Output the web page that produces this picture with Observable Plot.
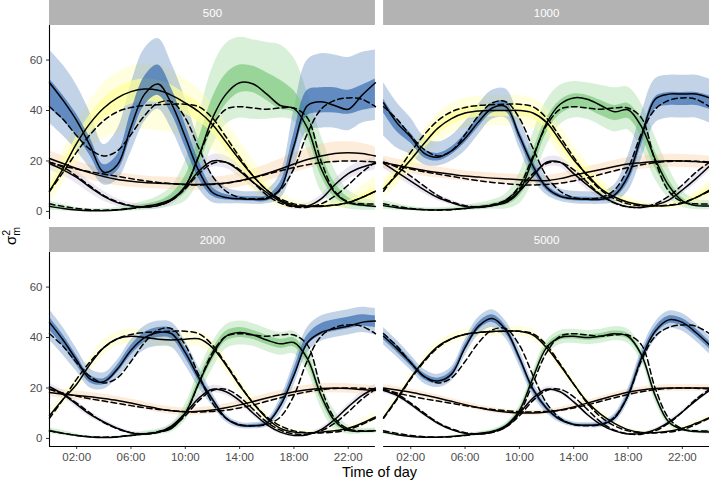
<!DOCTYPE html>
<html>
<head>
<meta charset="utf-8">
<script src="https://cdn.jsdelivr.net/npm/d3@7"></script>
<script src="https://cdn.jsdelivr.net/npm/@observablehq/plot@0.6"></script>
<style>
  body { margin: 0; background: #fff; }
  g[aria-label="x-axis label"] text { font-size: 14.5px; fill: #000; }
  g[aria-label="x-axis tick label"] text, g[aria-label="y-axis tick label"] text { fill: #4d4d4d; }
</style>
</head>
<body>
<div id="chart"></div>
<script>
// ---------- axes / panels ----------
const hours = [0,1,2,3,4,5,6,7,8,9,10,11,12,13,14,15,16,17,18,19,20,21,22,23,24];
const panels = [500, 1000, 2000, 5000];
const xTicks = [2, 6, 10, 14, 18, 22];
const xTickLabels = ["02:00", "06:00", "10:00", "14:00", "18:00", "22:00"];
const yTicks = [0, 20, 40, 60];

// ---------- true curves (dashed) ----------
const trueBlue   = [41.5,36.5,30,24.5,22,24,30.5,38,43,43.5,37,25,14,8,5.5,5,5.5,8.5,17,31,40.5,44,45,44.5,41.5];
const trueYellow = [8,15.5,23.5,30.5,36,39.5,41.2,42,42.3,42.5,42.5,41.5,37,29.5,21.5,14,8.5,5,3,2.3,2.2,2.5,3.5,5.5,8];
const trueGreen  = [3,2,1.2,0.7,0.5,0.7,1.2,1.8,2.7,4.5,10,22,34,40.5,41.5,41,40.5,41,41,37,20,8,3.8,3,3];
const trueOrange = [19.5,18,16.8,15.7,14.8,13.9,13,12.2,11.5,11,10.6,10.5,10.7,11.2,12.1,13.3,14.7,16.1,17.4,18.5,19.3,19.8,20,19.9,19.6];
const truePurple = [19.5,17.5,14,10,6.3,3.8,2.3,1.8,2.3,4.5,9,15,19,19.5,16.5,11.5,6.5,3.3,1.8,1.7,3,6,10.5,15.5,19.5];

// ---------- n = 500 ----------
const blue500   = [51,44,36,26,15.5,18.5,33.5,46.5,50.5,42.5,29.5,16,7.5,5.5,5,4.8,5,9,26,42,43.5,42,40.5,46,51];
const b500lo95  = [16,14,12,9,5,6,10,11,10,10,9,7,4,2.5,2,2,2,4,9,10,10.5,9,8.5,11,15];
const b500hi95  = [13,14,14,13,11,14,17,18,18,16,15,12,7,4,3,3,3.5,6,14,18,19,20,20.5,17,13];
const b500lo50  = [10,8,6,4,2,2.5,4,4.5,4.5,4,4,3,1.5,1,0.8,0.8,1,1.5,3,4,4.5,3,2,6,10];
const b500hi50  = [1.5,2,2.5,3,3,4,6,7,7.5,6,5,4,2,1.2,1,1,1.2,2.5,5,6,5.5,7,7.5,4,1.5];
const yellow500 = [8,17,27,35,41,45,47.5,48.5,48,46,43,39.5,34.5,27.5,20.5,14,8.5,4.5,2.5,2,2,2.5,3.5,5.5,8];
const y500lo95  = [5,6,8,10,12,14,15,16,16,15,14,12,10,8,7,6,4.5,3,1.5,1,1,1.2,2,3,5];
const y500hi95  = [6,7,8,9,10,10,10,10,10,10,9.5,9,8,8,7.5,6.5,5,3.5,2,1.5,1.5,2,3,4.5,6];
const y500lo50  = [2,2.5,3,4,4.5,5,5,5,5,5,4.5,4,3.5,3,2.5,2,1.5,1,0.6,0.5,0.5,0.5,0.8,1.2,2];
const y500hi50  = [2,2.5,3,3.5,4,4,4,4,4,4,3.5,3.5,3,3,2.5,2,1.5,1,0.6,0.5,0.5,0.5,0.8,1.2,2];
const green500  = [2,1.2,0.6,0.3,0.3,0.6,1.2,2,3,5,10,22,37,46.5,51,50.5,46.5,42,40.8,33,17,7.5,3.5,2.5,2];
const g500lo95  = [1.5,1,0.5,0.3,0.3,0.5,1,1.5,2,3,6,10,11,12,14,14,10,5,5,9,9,5,2.5,2,1.5];
const g500hi95  = [2,1.5,1,0.8,0.8,1,1.5,2,3,5,10,16,20,20,18,17.5,20.5,24,20,14,13,9,5,3,2];
const g500lo50  = [0.5,0.4,0.2,0.1,0.1,0.2,0.4,0.6,0.8,1.2,2.5,4,4,4,4,3.5,2.5,1.5,1.5,3,3,2,1,0.7,0.5];
const g500hi50  = [0.6,0.5,0.3,0.2,0.2,0.3,0.5,0.8,1,2,4,7,8,8,7,7,8.5,10,7,6,6,4,2,1,0.6];
const orange500 = [21,19,17,15.3,13.8,12.7,12,11.5,11.2,11,10.8,10.7,10.9,11.3,12.2,13.5,15,16.8,18.8,20.6,22,23,23.3,23,22];
const o500lo95  = [3,3,3,2.8,2.6,2.5,2.4,2.3,2.3,2.3,2.3,2.3,2.3,2.4,2.5,2.7,3,3.2,3.5,3.7,3.8,3.8,3.8,3.6,3.3];
const o500hi95  = [3,3,3,3,2.8,2.7,2.6,2.5,2.5,2.5,2.5,2.5,2.6,2.8,3,3.3,3.6,4,4.3,4.5,4.6,4.5,4.3,4,3.5];
const purple500 = [19,16.5,13.5,9.5,6,3.5,2.2,1.8,2.3,4.5,9.5,16,20,19.5,16,11.5,7.5,4,2,2.2,5,10.5,15,17.5,19];
const p500w95   = [2.5,2.5,2.5,2.3,2,1.5,1.2,1,1.2,1.8,2.3,2.5,2.5,2.5,2.5,2.3,2,1.5,1.2,1.2,1.5,2,2.3,2.5,2.5];

// ---------- n = 1000 ----------
const blue1000   = [43,35,29.5,23,21.5,24,29,35.5,41,41.5,30,18,9.5,6,5,4.8,4.8,6.5,14,30,44.5,46.5,46.5,46.5,45];
const b1000lo95  = [13,10,7,4.5,3.5,4,5,5,4.5,4.5,5,5,3,2,2,2,2,3,6,9,9.5,9.5,9.5,9.5,10];
const b1000hi95  = [8,8,7.5,6.5,6,6,6.5,7,7,7,7,6,4,3,3,3,3,4,8,9,8,7.5,7.5,7.5,7.5];
const b1000lo50  = [4,3.5,2.5,1.8,1.5,1.5,1.8,2,2,2,2,2,1.2,0.8,0.8,0.8,0.8,1.2,2.5,3.5,4,4.5,4.5,4.5,4.5];
const b1000hi50  = [1.5,1.5,1.5,1.5,1.5,1.5,1.8,2,2,2,2,2,1.2,0.8,0.8,0.8,0.8,1.2,1.5,1,0.8,0.6,0.6,0.6,0.8];
const yellow1000 = [9,14.5,20.5,27,33,36.8,39,39.8,40,40,40,39,35.3,28,20.5,14.5,9,5.7,3.6,2.5,2.2,2.3,3.2,5.5,8.5];
const y1000w95   = [3.5,4,5,5.5,6,6,6,6,6,6,6,6,6,6,5.5,5,4,3,2,1.2,1,1.2,1.5,2.5,3.5];
const y1000w50   = [1.5,1.7,2,2.2,2.5,2.5,2.5,2.5,2.5,2.5,2.5,2.5,2.5,2.5,2.2,2,1.7,1.2,0.8,0.5,0.4,0.5,0.6,1,1.5];
const green1000  = [2.3,1.5,1,0.7,0.6,0.8,1.2,1.8,2.5,3.5,8,21,35,42.5,45,44.5,42,39.5,40.3,33.5,20.7,10.2,4.2,2.3,2.2];
const g1000lo95  = [1.5,1,0.7,0.5,0.4,0.5,0.8,1.2,1.5,2.5,5,9,9,8,8,8,8,8,8,9,8,5,2.5,1.5,1.5];
const g1000hi95  = [2,1.5,1,0.8,0.8,1,1.2,1.5,2,3.5,7,10,9,7.5,6.5,6.5,8,9.5,9,9,9,7,4,2.5,2];
const g1000lo50  = [0.5,0.4,0.3,0.2,0.2,0.2,0.3,0.4,0.5,1,2,4,4,4,4,4,4,3.5,3.5,4,3.5,2,1,0.5,0.5];
const g1000hi50  = [0.6,0.5,0.4,0.3,0.3,0.3,0.4,0.5,0.6,1.2,2.5,3,2,1.5,1.5,1.5,2,2.5,2.5,3,3,2.5,1.2,0.7,0.6];
const orange1000 = [19.4,18.3,17.2,16.2,15.4,14.7,14,13.6,13.2,12.9,12.6,12.3,12.2,13,14.3,15.5,16.6,17.8,18.8,19.3,19.8,20.1,20,19.8,19.4];
const o1000w95   = [2.5,2.5,2.4,2.3,2.2,2.1,2,2,2,2,2,2,2,2,2.1,2.2,2.3,2.4,2.5,2.6,2.6,2.6,2.6,2.6,2.5];
const purple1000 = [19,15.5,12,8.5,5.5,3.5,2,1.6,2.2,4,8,14,19.5,19.5,15,10.5,6.5,3.5,1.8,1.6,2.5,4.5,8.5,13,18];
const p1000w95   = [2,2,1.8,1.6,1.3,1,0.8,0.8,0.8,1.2,1.6,2,2,2,2,1.8,1.5,1.1,0.8,0.8,1,1.3,1.6,1.9,2];

// ---------- n = 2000 ----------
const blue2000   = [46,39,31,23.5,22.5,27.5,35,40,42,41.5,34,24,15.5,8,5.2,5,6,13,25,38,42,43.5,44.5,46,46.5];
const b2000lo95  = [7,6,4.5,3.5,3,3.5,4.5,5,5.5,5.5,5,4,2.5,1.5,1.2,1.2,1.5,3,4,4,3.5,3.5,3.5,4,5.5];
const b2000hi95  = [5,5,4.5,4,3.5,3.5,4,4.5,4.5,4.5,4.5,4,2.5,1.5,1.2,1.2,1.5,3,5,6,6.5,6.5,6.5,6,5];
const b2000lo50  = [3,2.5,2,1.5,1.2,1.5,2,2,2,2,2,1.5,1,0.6,0.5,0.5,0.6,1.2,1.5,1.2,1,1,1,1.5,2.5];
const b2000hi50  = [2,2,1.8,1.5,1.2,1.5,1.8,2,2,2,2,1.5,1,0.6,0.5,0.5,0.6,1.2,2.5,3,3.5,3.5,3.5,3,2];
const yellow2000 = [9,15.5,21.5,29.5,36,39.5,40.5,40,39.3,39,39.3,39.5,36,29,21,14,8,4,2.5,2.2,2.5,3,4,6,8.5];
const y2000w95   = [2,2.3,2.6,2.8,3,3,3,3,3,3,3,3,3,3,2.8,2.5,2.2,1.6,1,0.7,0.7,0.8,1,1.4,2];
const green2000  = [3,2,1.2,0.6,0.4,0.6,1.2,1.8,2.5,4,10,22,33,40.5,42,41,39,37.5,38,31.5,17,7,3.2,2.8,3];
const g2000lo95  = [1,0.8,0.5,0.3,0.3,0.3,0.5,0.8,1,1.5,3,5,5.5,5,5,4.5,4.5,4.5,4.5,5,5,3.5,1.5,1,1];
const g2000hi95  = [1.2,1,0.6,0.4,0.4,0.4,0.6,1,1.2,2,3.5,5,5,4.5,4.5,4.5,4.5,4.5,4.5,5,5,4,2,1.2,1.2];
const g2000w50   = [0.4,0.3,0.2,0.1,0.1,0.1,0.2,0.3,0.4,0.6,1.3,2,2.2,2,2,1.8,1.8,1.8,1.8,2,2,1.5,0.7,0.4,0.4];
const orange2000 = [18.2,17.6,17,16.5,15.8,15,14,12.9,11.8,11,10.6,10.8,11.3,12.2,13.3,14.6,16,17.3,18.5,19.3,19.8,20,19.8,19.4,19];
const o2000w95   = [1.8,1.8,1.8,1.7,1.7,1.6,1.6,1.5,1.5,1.5,1.5,1.5,1.5,1.5,1.6,1.6,1.7,1.7,1.8,1.8,1.9,1.9,1.9,1.9,1.8];
const purple2000 = [20.5,17.5,13.5,9.5,6.5,4,2.2,1.8,2.5,5,10,16,19.5,18.5,15,10,5.5,2.5,1.2,1.5,3.5,7.5,12.5,17,20];
const p2000w95   = [1.5,1.5,1.4,1.2,1,0.8,0.6,0.6,0.6,0.9,1.2,1.5,1.5,1.5,1.4,1.2,1,0.8,0.6,0.6,0.8,1,1.2,1.4,1.5];

// ---------- n = 5000 ----------
const blue5000   = [40.5,35.5,30,24.5,22.8,25.5,36,44.5,47.5,43,32,19.5,12,7.5,5.5,5.2,5.5,8,17,32,42.5,47,46,42,37];
const b5000w95   = [3.5,3.3,3,2.8,2.6,2.8,3.2,3.5,3.5,3.5,3.3,2.8,2,1.3,1,1,1.2,1.8,2.8,3.3,3.5,3.5,3.5,3.5,3.5];
const b5000w50   = [1.5,1.4,1.3,1.2,1.1,1.2,1.4,1.5,1.5,1.5,1.4,1.2,0.9,0.6,0.4,0.4,0.5,0.8,1.2,1.4,1.5,1.5,1.5,1.5,1.5];
const yellow5000 = [8.3,16,24,31,36.5,39.5,41.3,42,42.5,42.5,42.5,41,36,29,21.5,14.5,9.5,6,3.5,2.4,2.3,2.8,4,6,8.3];
const y5000w95   = [1.2,1.4,1.6,1.8,1.9,2,2,2,2,2,2,2,2,2,1.9,1.7,1.4,1,0.7,0.5,0.5,0.5,0.7,0.9,1.2];
const green5000  = [2.5,1.5,0.8,0.5,0.5,0.8,1.3,2,2.8,5,11,24,36,40,40.5,40,40.5,41.5,40.5,33,17,6.5,3.5,2.7,2.5];
const g5000w95   = [0.8,0.6,0.4,0.3,0.3,0.3,0.4,0.6,0.8,1.2,2,2.5,2.8,2.8,2.8,2.8,2.8,2.8,2.8,2.8,2.5,1.5,0.8,0.7,0.8];
const g5000w50   = [0.3,0.2,0.2,0.1,0.1,0.1,0.2,0.2,0.3,0.5,0.8,1,1.1,1.1,1.1,1.1,1.1,1.1,1.1,1.1,1,0.6,0.3,0.3,0.3];
const orange5000 = [20,19.2,18.3,17.2,16,14.7,13.4,12.2,11.2,10.5,10.1,10.1,10.5,11.3,12.5,14,15.5,17,18.3,19.2,19.8,20,20,20,20];
const o5000w95   = [1.3,1.3,1.2,1.2,1.2,1.1,1.1,1.1,1.1,1,1,1,1,1,1.1,1.1,1.1,1.2,1.2,1.2,1.3,1.3,1.3,1.3,1.3];
const purple5000 = [19,17,13.5,9.5,6,3.5,2,1.8,2.5,5,10,16,19.5,18.5,14.5,9.5,5.5,3,1.8,2,3.5,6.5,10.5,15,19];
const p5000w95   = [1,1,0.9,0.8,0.7,0.5,0.4,0.4,0.4,0.6,0.8,1,1,1,0.9,0.8,0.6,0.5,0.4,0.4,0.5,0.7,0.8,0.9,1];

// ---------- assemble ----------
const truth = {green: trueGreen, purple: truePurple, orange: trueOrange, yellow: trueYellow, blue: trueBlue};
const S = {
  500: {
    green:  {e: green500,  lo95: g500lo95, hi95: g500hi95, lo50: g500lo50, hi50: g500hi50},
    purple: {e: purple500, lo95: p500w95,  hi95: p500w95},
    orange: {e: orange500, lo95: o500lo95, hi95: o500hi95},
    yellow: {e: yellow500, lo95: y500lo95, hi95: y500hi95, lo50: y500lo50, hi50: y500hi50},
    blue:   {e: blue500,   lo95: b500lo95, hi95: b500hi95, lo50: b500lo50, hi50: b500hi50}
  },
  1000: {
    green:  {e: green1000,  lo95: g1000lo95, hi95: g1000hi95, lo50: g1000lo50, hi50: g1000hi50},
    purple: {e: purple1000, lo95: p1000w95,  hi95: p1000w95},
    orange: {e: orange1000, lo95: o1000w95,  hi95: o1000w95},
    yellow: {e: yellow1000, lo95: y1000w95,  hi95: y1000w95, lo50: y1000w50, hi50: y1000w50},
    blue:   {e: blue1000,   lo95: b1000lo95, hi95: b1000hi95, lo50: b1000lo50, hi50: b1000hi50}
  },
  2000: {
    green:  {e: green2000,  lo95: g2000lo95, hi95: g2000hi95, lo50: g2000w50, hi50: g2000w50},
    purple: {e: purple2000, lo95: p2000w95,  hi95: p2000w95},
    orange: {e: orange2000, lo95: o2000w95,  hi95: o2000w95},
    yellow: {e: yellow2000, lo95: y2000w95,  hi95: y2000w95},
    blue:   {e: blue2000,   lo95: b2000lo95, hi95: b2000hi95, lo50: b2000lo50, hi50: b2000hi50}
  },
  5000: {
    green:  {e: green5000,  lo95: g5000w95, hi95: g5000w95, lo50: g5000w50, hi50: g5000w50},
    purple: {e: purple5000, lo95: p5000w95, hi95: p5000w95},
    orange: {e: orange5000, lo95: o5000w95, hi95: o5000w95},
    yellow: {e: yellow5000, lo95: y5000w95, hi95: y5000w95},
    blue:   {e: blue5000,   lo95: b5000w95, hi95: b5000w95, lo50: b5000w50, hi50: b5000w50}
  }
};
const comps = ["green", "purple", "orange", "yellow", "blue"];
const compColor = {green: "#7FC97F", purple: "#BEAED4", orange: "#FDC086", yellow: "#FFFF99", blue: "#386CB0"};

const panelInfo = panels.map((n, i) => ({n, col: i % 2, row: Math.floor(i / 2)}));
const rows = [];
panelInfo.forEach(({n, col, row}) => {
  comps.forEach(c => {
    const s = S[n][c];
    hours.forEach((h, k) => {
      rows.push({
        n, col, row, comp: c, hour: h,
        est: s.e[k], truth: truth[c][k],
        lo95: s.e[k] - s.lo95[k], hi95: s.e[k] + s.hi95[k],
        lo50: s.lo50 ? s.e[k] - s.lo50[k] : NaN,
        hi50: s.hi50 ? s.e[k] + s.hi50[k] : NaN,
        has50: !!s.lo50
      });
    });
  });
});

const Y0 = -3.2, Y1 = 73.7, YS = 83.6;
const marks = [];
comps.forEach(c => {
  marks.push(Plot.areaY(rows.filter(d => d.comp === c), {
    x: "hour", y1: "lo95", y2: "hi95", fx: "col", fy: "row",
    fill: compColor[c], fillOpacity: 0.3, curve: "catmull-rom"
  }));
});
comps.forEach(c => {
  const sub = rows.filter(d => d.comp === c && d.has50);
  if (sub.length) marks.push(Plot.areaY(sub, {
    x: "hour", y1: "lo50", y2: "hi50", fx: "col", fy: "row",
    fill: compColor[c], fillOpacity: 0.7, curve: "catmull-rom"
  }));
});
marks.push(Plot.lineY(rows, {x: "hour", y: "est", z: "comp", fx: "col", fy: "row",
  stroke: "black", strokeWidth: 1.5, curve: "catmull-rom"}));
marks.push(Plot.lineY(rows, {x: "hour", y: "truth", z: "comp", fx: "col", fy: "row",
  stroke: "black", strokeWidth: 1.5, strokeDasharray: "5.5,3.5", curve: "catmull-rom"}));
// strips
marks.push(Plot.rect(panelInfo, {fx: "col", fy: "row", x1: () => 0, x2: () => 24, y1: () => Y1, y2: () => YS, fill: "#b3b3b3"}));
marks.push(Plot.text(panelInfo, {fx: "col", fy: "row", x: () => 12, y: () => (Y1 + YS) / 2, text: d => String(d.n), fill: "white", fontSize: 11.5}));
// axis lines
marks.push(Plot.ruleX(panelInfo.filter(d => d.col === 0), {fx: "col", fy: "row", x: () => 0, stroke: "black", strokeWidth: 1.1}));
marks.push(Plot.ruleY(panelInfo.filter(d => d.row === 1), {fx: "col", fy: "row", y: () => Y0, stroke: "black", strokeWidth: 1.1}));

const chart = Plot.plot({
  width: 709, height: 485,
  marginLeft: 49, marginRight: 0, marginTop: 25, marginBottom: 39,
  style: {fontFamily: "'Liberation Sans', Arial, sans-serif", fontSize: "11.5px", color: "#333333", background: "white", overflow: "visible"},
  x: {domain: [0, 24], ticks: xTicks, tickFormat: d => xTickLabels[xTicks.indexOf(d)], tickSize: 3, tickPadding: 3,
      label: "Time of day", labelArrow: "none", labelAnchor: "center", labelOffset: 30},
  y: {domain: [Y0, Y1], ticks: yTicks, tickSize: 3, tickPadding: 4, label: null},
  fx: {domain: [0, 1], axis: null, paddingInner: 0.0245, paddingOuter: 0, round: false},
  fy: {domain: [0, 1], axis: null, paddingInner: 0.1454, paddingOuter: 0, round: false},
  marks
});
document.getElementById("chart").appendChild(chart);

// y-axis title  σ²_m
const svg = d3.select(chart);
const t = svg.append("text")
  .attr("transform", "translate(16,236) rotate(-90)")
  .attr("text-anchor", "middle")
  .attr("font-family", "'Liberation Sans', Arial, sans-serif")
  .attr("font-size", 15).attr("fill", "black");
t.append("tspan").text("σ");
t.append("tspan").attr("font-size", 10.5).attr("dy", -6.5).text("2");
t.append("tspan").attr("font-size", 10.5).attr("dx", -6).attr("dy", 10.5).text("m");
</script>
</body>
</html>
